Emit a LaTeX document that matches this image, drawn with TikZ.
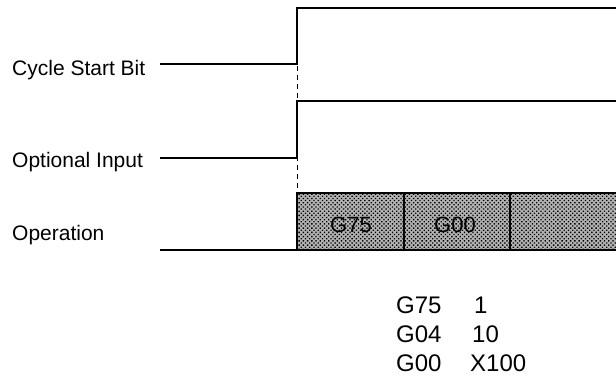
\documentclass[tikz,border=0pt]{standalone}
\usepackage{fontspec}
\setmainfont{Liberation Sans}
\usetikzlibrary{patterns.meta}
\begin{document}
\begin{tikzpicture}[x=1pt,y=-1pt,
  sig/.style={line width=2pt, line join=miter},
  lbl/.style={anchor=base west, inner sep=0pt, font=\fontsize{21}{25}\selectfont},
  code/.style={anchor=base west, inner sep=0pt, font=\fontsize{24}{28}\selectfont},
  boxlbl/.style={inner sep=0pt, font=\fontsize{22}{26}\selectfont},
  opbox/.style={draw, line width=2pt, preaction={fill=black!30}, pattern={Dots[distance=3pt, radius=0.95pt, angle=45]}, pattern color=black}]
\useasboundingbox (0,0) rectangle (616,383);
% labels
\node[lbl] (lcyc) at (12,75) {Cycle Start Bit};
\node[lbl] (lopt) at (12,167) {Optional Input};
\node[lbl] (lop) at (12,240) {Operation};
% signal coordinates
\coordinate (c0) at (160,64);
\coordinate (c1) at (297,64);
\coordinate (c2) at (297,8);
\coordinate (c3) at (620,8);
\coordinate (o0) at (160,158);
\coordinate (o1) at (297,158);
\coordinate (o2) at (297,101);
\coordinate (o3) at (620,101);
\coordinate (p0) at (160,250);
\coordinate (p1) at (297,250);
% operation boxes
\path[opbox] (297,193) rectangle (404,250);
\path[opbox] (404,193) rectangle (510,250);
\path[opbox] (510,193) rectangle (625,250);
\node[boxlbl] (b1) at (351,225) {G75};
\node[boxlbl] (b2) at (455,225) {G00};
% signals
\draw[sig] (c0) -- (c1) -- (c2) -- (c3);
\draw[sig] (o0) -- (o1) -- (o2) -- (o3);
\draw[sig] (p0) -- (p1);
\coordinate (dtop) at (297,66);
\coordinate (dbot) at (297,192);
\draw[line width=0.8pt, dash pattern=on 5pt off 4pt] (dtop) -- (dbot);
% code listing
\node[code] (g1) at (396,313) {G75};
\node[code] (v1) at (474,313) {1};
\node[code] (g2) at (396,342) {G04};
\node[code] (v2) at (472,342) {10};
\node[code] (g3) at (396,371) {G00};
\node[code] (v3) at (470,371) {X100};
\end{tikzpicture}
\end{document}
